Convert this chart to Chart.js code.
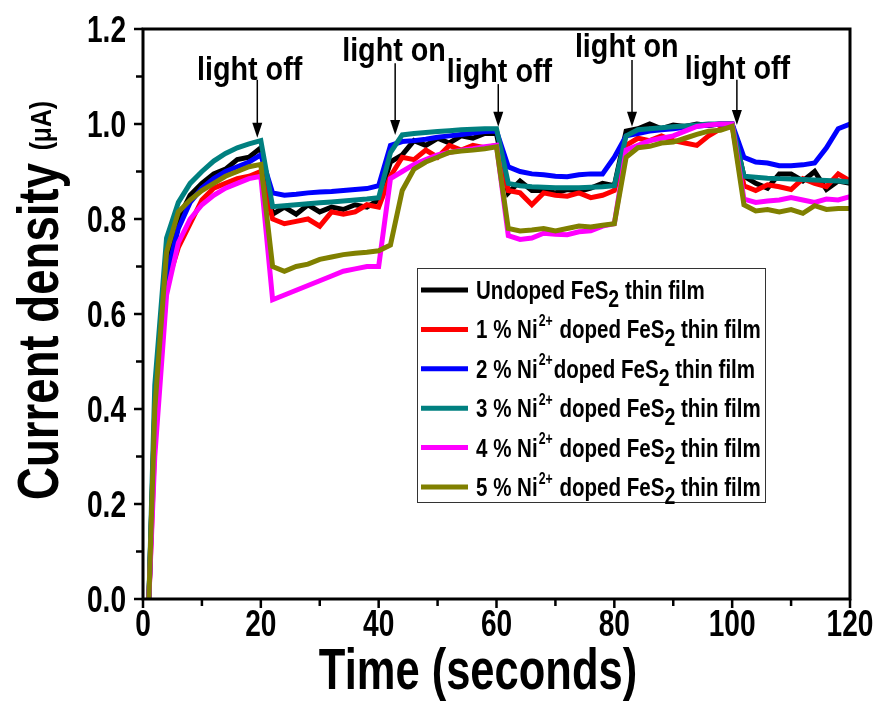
<!DOCTYPE html>
<html>
<head>
<meta charset="utf-8">
<script src="https://cdn.jsdelivr.net/npm/chart.js@4.4.1/dist/chart.umd.min.js"></script>
<style>
  html, body { margin: 0; padding: 0; background: #fff; }
  #wrap { width: 878px; height: 702px; }
</style>
</head>
<body>
<div id="wrap"><canvas id="myChart" width="878" height="702"></canvas></div>
<script>
const FONT = "'Liberation Sans', Arial, sans-serif";

// time (s)
const time = [1, 2, 4, 6, 8, 10, 12, 14, 16, 18, 20,
  22, 24, 26, 28, 30, 32, 34, 36, 38, 40,
  42, 44, 46, 48, 50, 52, 54, 56, 58, 60,
  62, 64, 66, 68, 70, 72, 74, 76, 78, 80,
  82, 84, 86, 88, 90, 92, 94, 96, 98, 100,
  102, 104, 106, 108, 110, 112, 114, 116, 118, 120];

const undoped = [0, 0.40, 0.71, 0.80, 0.85, 0.875, 0.895, 0.905, 0.925, 0.93, 0.95,
  0.81, 0.825, 0.81, 0.83, 0.815, 0.825, 0.82, 0.83, 0.825, 0.84,
  0.92, 0.935, 0.965, 0.955, 0.97, 0.96, 0.975, 0.97, 0.98, 0.98,
  0.855, 0.88, 0.86, 0.86, 0.855, 0.862, 0.858, 0.865, 0.875, 0.87,
  0.985, 0.99, 1.0, 0.99, 0.998, 0.995, 1.0, 0.997, 1.0, 1.0,
  0.89, 0.875, 0.865, 0.895, 0.895, 0.88, 0.90, 0.862, 0.88, 0.875];

const ni1 = [0, 0.33, 0.66, 0.74, 0.79, 0.84, 0.865, 0.875, 0.885, 0.89, 0.90,
  0.80, 0.79, 0.795, 0.80, 0.785, 0.815, 0.81, 0.815, 0.83, 0.825,
  0.89, 0.93, 0.925, 0.945, 0.93, 0.955, 0.945, 0.955, 0.95, 0.955,
  0.86, 0.855, 0.83, 0.855, 0.85, 0.848, 0.855, 0.845, 0.85, 0.86,
  0.955, 0.97, 0.965, 0.975, 0.965, 0.96, 0.955, 0.975, 0.99, 0.995,
  0.87, 0.86, 0.872, 0.868, 0.862, 0.885, 0.875, 0.868, 0.895, 0.88];

const ni2 = [0, 0.38, 0.68, 0.78, 0.835, 0.865, 0.885, 0.90, 0.91, 0.92, 0.935,
  0.855, 0.85, 0.852, 0.855, 0.857, 0.858, 0.86, 0.862, 0.864, 0.87,
  0.955, 0.963, 0.965, 0.968, 0.972, 0.975, 0.978, 0.981, 0.984, 0.985,
  0.91, 0.90, 0.895, 0.893, 0.89, 0.889, 0.893, 0.895, 0.895, 0.93,
  0.975, 0.98, 0.985, 0.988, 0.99, 0.993, 0.995, 0.998, 1.0, 1.0,
  0.93, 0.92, 0.918, 0.912, 0.912, 0.914, 0.918, 0.95, 0.99, 1.0];

const ni3 = [0, 0.45, 0.76, 0.835, 0.875, 0.90, 0.922, 0.938, 0.95, 0.958, 0.965,
  0.826, 0.828, 0.83, 0.832, 0.834, 0.836, 0.838, 0.84, 0.842, 0.845,
  0.94, 0.977, 0.98, 0.982, 0.984, 0.986, 0.988, 0.989, 0.99, 0.99,
  0.875, 0.87, 0.868, 0.867, 0.866, 0.866, 0.866, 0.867, 0.868, 0.87,
  0.975, 0.988, 0.99, 0.992, 0.994, 0.996, 0.998, 1.0, 1.0, 1.0,
  0.89, 0.888, 0.886, 0.885, 0.884, 0.883, 0.882, 0.881, 0.88, 0.878];

const ni4 = [0, 0.30, 0.64, 0.75, 0.80, 0.83, 0.85, 0.865, 0.875, 0.885, 0.89,
  0.63, 0.64, 0.65, 0.66, 0.67, 0.68, 0.69, 0.695, 0.70, 0.70,
  0.885, 0.90, 0.915, 0.925, 0.935, 0.94, 0.945, 0.948, 0.952, 0.955,
  0.765, 0.757, 0.76, 0.77, 0.768, 0.767, 0.773, 0.775, 0.785, 0.79,
  0.945, 0.955, 0.965, 0.97, 0.975, 0.985, 0.995, 0.998, 1.0, 1.0,
  0.842, 0.835, 0.838, 0.84, 0.845, 0.84, 0.835, 0.842, 0.84, 0.847];

const ni5 = [0, 0.40, 0.73, 0.815, 0.84, 0.86, 0.875, 0.89, 0.90, 0.91, 0.915,
  0.70, 0.69, 0.70, 0.705, 0.715, 0.72, 0.725, 0.728, 0.73, 0.733,
  0.745, 0.86, 0.905, 0.92, 0.93, 0.94, 0.943, 0.945, 0.948, 0.952,
  0.78, 0.775, 0.777, 0.78, 0.775, 0.78, 0.785, 0.783, 0.787, 0.79,
  0.93, 0.95, 0.953, 0.96, 0.962, 0.97, 0.978, 0.985, 0.987, 0.995,
  0.83, 0.817, 0.82, 0.815, 0.82, 0.812, 0.828, 0.82, 0.822, 0.822];

// _2 = subscript, ^2+ = superscript
const seriesLabels = [
  'Undoped FeS_2 thin film',
  '1 % Ni^2+ doped FeS_2 thin film',
  '2 % Ni^2+doped FeS_2 thin film',
  '3 % Ni^2+ doped FeS_2 thin film',
  '4 % Ni^2+ doped FeS_2 thin film',
  '5 % Ni^2+ doped FeS_2 thin film'
];
const seriesValues = [undoped, ni1, ni2, ni3, ni4, ni5];
const seriesColors = ['#000000', '#ff0000', '#0000ff', '#008080', '#ff00ff', '#808000'];

// light switching marks
const switchText = ['light off', 'light on', 'light off', 'light on', 'light off'];
const switchLabelT = [18.1, 42.6, 60.5, 82.1, 100.9];
const switchLabelV = [1.093, 1.133, 1.088, 1.141, 1.095];
const switchArrowT = [19.4, 42.8, 60.3, 83.0, 100.8];
const switchArrowFrom = [1.093, 1.128, 1.084, 1.135, 1.093];
const switchArrowTo = [0.971, 0.977, 0.994, 0.994, 0.998];

const xTicks = [0, 20, 40, 60, 80, 100, 120];
const yTicks = [0, 0.2, 0.4, 0.6, 0.8, 1.0, 1.2];

function plainLabel(s) {
  return s.replace(/_2/g, '\u2082').replace(/\^2\+/g, '\u00b2\u207a');
}

// text squeezed horizontally, like the narrow face in the original figure
function narrowText(ctx, text, x, y, size, sx, align, weight) {
  ctx.save();
  ctx.font = `${weight || 'bold'} ${size}px ${FONT}`;
  const w = ctx.measureText(text).width * sx;
  let x0 = x;
  if (align === 'center') x0 = x - w / 2;
  else if (align === 'right') x0 = x - w;
  ctx.translate(x0, y);
  ctx.scale(sx, 1);
  ctx.textAlign = 'left';
  ctx.fillText(text, 0, 0);
  ctx.restore();
  return w;
}

function drawRich(ctx, text, x, y, size, sx) {
  const parts = text.split(/(_\d|\^\d\+)/).filter(Boolean);
  ctx.textBaseline = 'alphabetic';
  parts.forEach(p => {
    if (p[0] === '_') {
      x += narrowText(ctx, p.slice(1), x, y + size * 0.3, size * 0.95, sx, 'left');
    } else if (p[0] === '^') {
      x += narrowText(ctx, p.slice(1), x + 1, y - size * 0.48, size * 0.6, sx, 'left') + 2;
    } else {
      x += narrowText(ctx, p, x, y, size, sx, 'left');
    }
  });
}

const decor = {
  id: 'decor',
  afterDraw(chart) {
    const ctx = chart.ctx;
    const xs = chart.scales.x;
    const ys = chart.scales.y;
    const a = chart.chartArea;
    ctx.save();
    ctx.strokeStyle = '#000';
    ctx.fillStyle = '#000';

    // frame
    ctx.lineWidth = 3;
    ctx.strokeRect(a.left, a.top, a.right - a.left, a.bottom - a.top);

    // ticks
    ctx.lineWidth = 2.5;
    ctx.beginPath();
    for (let v = 0; v <= 120; v += 10) {
      const px = xs.getPixelForValue(v);
      const len = v % 20 === 0 ? 9 : 7;
      ctx.moveTo(px, a.bottom);
      ctx.lineTo(px, a.bottom + len);
    }
    for (let i = 0; i <= 12; i++) {
      const py = ys.getPixelForValue(i / 10);
      const len = i % 2 === 0 ? 9 : 7;
      ctx.moveTo(a.left, py);
      ctx.lineTo(a.left - len, py);
    }
    ctx.stroke();

    // tick labels
    ctx.textBaseline = 'alphabetic';
    xTicks.forEach(v => {
      narrowText(ctx, String(v), xs.getPixelForValue(v), a.bottom + 37, 36, 0.78, 'center');
    });
    yTicks.forEach(v => {
      narrowText(ctx, v.toFixed(1), a.left - 17, ys.getPixelForValue(v) + 13, 36, 0.78, 'right');
    });

    // axis titles
    narrowText(ctx, 'Time (seconds)', 478, 689, 58, 0.75, 'center');

    ctx.save();
    ctx.translate(58, 500);
    ctx.rotate(-Math.PI / 2);
    const w = narrowText(ctx, 'Current density ', 0, 0, 57, 0.8, 'left');
    narrowText(ctx, '(\u03bcA)', w, -7, 29, 0.85, 'left', 'bold');
    ctx.restore();

    // light on/off marks
    switchText.forEach((t, i) => {
      narrowText(ctx, t, xs.getPixelForValue(switchLabelT[i]), ys.getPixelForValue(switchLabelV[i]), 33, 0.87, 'center');
      const ax = xs.getPixelForValue(switchArrowT[i]);
      const y0 = ys.getPixelForValue(switchArrowFrom[i]);
      const y1 = ys.getPixelForValue(switchArrowTo[i]);
      ctx.lineWidth = 1.5;
      ctx.beginPath();
      ctx.moveTo(ax, y0);
      ctx.lineTo(ax, y1 - 12);
      ctx.stroke();
      ctx.beginPath();
      ctx.moveTo(ax, y1);
      ctx.lineTo(ax - 5, y1 - 15);
      ctx.lineTo(ax + 5, y1 - 15);
      ctx.closePath();
      ctx.fill();
    });

    // legend
    const lx = 417, ly = 268, lw = 348, lh = 234;
    ctx.fillStyle = '#fff';
    ctx.fillRect(lx, ly, lw, lh);
    ctx.lineWidth = 1;
    ctx.strokeStyle = '#333';
    ctx.strokeRect(lx + 0.5, ly + 0.5, lw, lh);
    seriesLabels.forEach((lab, i) => {
      const y = 290 + i * 39.4;
      ctx.strokeStyle = seriesColors[i];
      ctx.lineWidth = 5;
      ctx.beginPath();
      ctx.moveTo(421, y);
      ctx.lineTo(468, y);
      ctx.stroke();
      ctx.fillStyle = '#000';
      drawRich(ctx, lab, 476, y + 9, 26, 0.79);
    });
    ctx.restore();
  }
};

new Chart(document.getElementById('myChart'), {
  type: 'line',
  data: {
    labels: time,
    datasets: seriesValues.map((vals, i) => ({
      label: plainLabel(seriesLabels[i]),
      data: vals.map((v, j) => ({ x: time[j], y: v })),
      borderColor: seriesColors[i],
      backgroundColor: seriesColors[i],
      borderWidth: 5,
      pointRadius: 0,
      tension: 0,
      fill: false,
      order: 6 - i
    }))
  },
  options: {
    responsive: false,
    animation: false,
    devicePixelRatio: 1,
    layout: { padding: { top: 29, right: 28, left: 0, bottom: 0 } },
    plugins: { legend: { display: false }, tooltip: { enabled: false } },
    scales: {
      x: {
        type: 'linear',
        min: 0,
        max: 120,
        afterFit(s) { s.height = 103; },
        grid: { display: false },
        border: { display: false },
        ticks: { display: false }
      },
      y: {
        min: 0,
        max: 1.2,
        afterFit(s) { s.width = 143; },
        grid: { display: false },
        border: { display: false },
        ticks: { display: false }
      }
    }
  },
  plugins: [decor]
});
</script>
</body>
</html>
